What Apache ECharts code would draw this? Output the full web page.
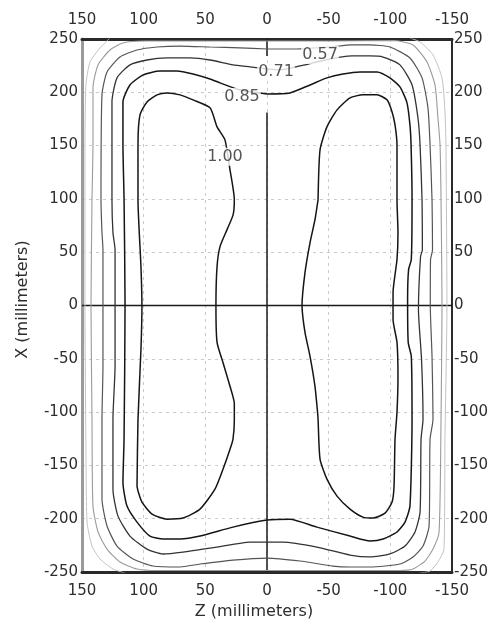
<!DOCTYPE html>
<html>
<head>
<meta charset="utf-8">
<script src="https://cdn.jsdelivr.net/npm/echarts@6/dist/echarts.min.js"></script>
<style>
html,body{margin:0;padding:0;background:#fff;}
#chart{width:499px;height:625px;}
</style>
</head>
<body>
<div id="chart"></div>
<script>
// Axis ranges (Z horizontal, reversed; X vertical)
const zRange = [-150, 150];
const xRange = [-250, 250];
const tickStep = 50;

// Contour label texts and where they sit [Z, X]
const labelTexts = ['0.57', '0.71', '0.85', '1.00'];
const labelPoints = [[-43, 235], [-7.3, 219], [20.3, 195.7], [34.1, 139.5]];

// Contour 1.00 - left lobe  [Z, X]
const c100Left = [
  [105.4,-169.5],[104.6,-106.7],[102.2,-41.2],[101.4,0],[102.2,36.5],[104.6,99.3],[104.6,150.7],
  [103.0,178.8],[97.3,191.0],[89.2,197.6],[81.1,199.4],[70.5,197.6],[60.0,192.9],[46.2,185.4],
  [40.5,167.6],[34.1,155.4],[30.0,127.3],[26.5,99.3],[27.5,85],[32.4,71.2],[38.1,55.2],
  [40.5,36.5],[41.4,0],[40.5,-34.6],[35.7,-53.4],[30.0,-75.8],[26.5,-92],[26.5,-108],
  [27.6,-125.5],[30.0,-134.8],[35.7,-153.6],[42.2,-172.3],[54.3,-191.0],[68.1,-199.4],
  [81.1,-200.4],[93.2,-195.7],[101.4,-184.4],[104.6,-174],[105.4,-169.5]
];
// Contour 1.00 - right lobe
const c100Right = [
  [-41.4,99.3],[-43.0,146.1],[-48.6,167.6],[-56.8,183.5],[-67.3,194.8],[-77.8,197.6],[-89.2,197.6],
  [-97.3,192.9],[-101.4,181.6],[-103.8,169.5],[-105.4,150.7],[-105.4,99.3],[-106.2,68.4],
  [-105.4,43.1],[-102.2,12.2],[-102.2,-13.1],[-105.4,-34.6],[-106.2,-66.5],[-105.4,-100.2],
  [-103.8,-125.5],[-103.0,-169.5],[-101.4,-184.4],[-95.7,-194.8],[-85.9,-199.4],[-77.8,-198.5],
  [-67.3,-191.0],[-56.8,-178.8],[-48.6,-162.9],[-43.0,-144.2],[-41.4,-106.7],[-41.0,-100.2],
  [-38.9,-75.8],[-34.9,-47.7],[-30.8,-25.3],[-28.4,0],[-30.8,30.9],[-34.9,59.0],[-38.9,80.5],
  [-41.4,99.3]
];
// Contour 0.85
const c085 = [
  [0,198.5],[-18.6,199.4],[-34.9,206.9],[-48.6,213.5],[-61.6,217.2],[-75.4,219.1],[-89.2,219.1],
  [-99.7,213.5],[-107.8,205.1],[-113.5,190.1],[-115.9,169.5],[-116.8,150.7],[-117.6,99.3],
  [-117.0,43.1],[-114.8,33.7],[-114.0,5.6],[-114.5,-34.6],[-117.0,-47.7],[-117.6,-106.7],
  [-115.9,-188.2],[-111.9,-203.2],[-105.4,-212.5],[-94.1,-219.1],[-83.5,-220.9],[-67.3,-216.3],
  [-40.5,-207.9],[-18.6,-200.4],[0,-201.3],[27.6,-207.9],[54.3,-216.3],[70.5,-219.1],
  [84.3,-219.1],[94.9,-216.3],[105.4,-203.2],[113.5,-188.2],[116.8,-165.7],[115.9,-125.5],
  [115.1,0],[115.9,99.3],[116.8,150.7],[116.8,191.0],[111.1,206.9],[100.5,216.3],[86.8,220.0],
  [73.0,220.0],[60.0,217.2],[46.2,212.5],[38.1,208.8],[21.9,202.2],[0,198.5]
];
// Contour 0.71
const c071 = [
  [0,221.9],[-10.5,221.0],[-26.8,224.7],[-47.0,230.3],[-68.9,234.1],[-83.5,234.1],[-94.1,233.1],
  [-107.8,225.7],[-117.6,206.9],[-122.4,176.0],[-124.1,150.7],[-125.7,99.3],[-126.0,52.4],
  [-124.5,45.9],[-122.8,-3.7],[-125.3,-50.6],[-126.5,-106.7],[-124.9,-125.5],[-124.1,-193.8],
  [-120.0,-212.5],[-111.9,-225.7],[-99.7,-233.1],[-83.5,-235.9],[-67.3,-234.1],[-40.5,-226.6],
  [-13.0,-221.9],[0,-221.9],[13.8,-221.9],[40.5,-226.6],[68.1,-231.3],[84.3,-233.1],
  [97.3,-228.5],[111.1,-216.3],[120.8,-197.6],[124.9,-172.3],[124.9,-106.7],[123.2,-57.1],
  [123.2,52.4],[124.9,68.4],[125.7,99.3],[125.7,191.0],[121.6,213.5],[111.1,225.7],[97.3,230.3],
  [81.1,232.2],[62.4,232.2],[46.2,230.3],[27.6,225.7],[13.8,223.8],[0,221.9]
];
// Contour 0.57
const c057 = [
  [0,240.6],[-24.3,240.6],[-51.1,242.5],[-68.9,244.4],[-83.5,244.4],[-99.7,242.5],[-115.9,232.2],
  [-125.7,213.5],[-130.5,185.4],[-132.2,150.7],[-133.8,99.3],[-134.2,52.4],[-132.6,43.1],
  [-132.4,0],[-133.8,-47.7],[-134.6,-106.7],[-132.2,-125.5],[-131.4,-206.9],[-126.5,-225.7],
  [-118.4,-235.9],[-107.8,-242.5],[-83.5,-245.3],[-67.3,-245.3],[-53.5,-244.4],[-26.8,-239.7],
  [0,-236.9],[27.6,-238.8],[54.3,-242.5],[70.5,-245.3],[92.4,-244.4],[108.6,-237.8],
  [121.6,-225.7],[129.7,-206.9],[133.8,-181.6],[133.8,-106.7],[133.0,-57.1],[133.0,52.4],
  [133.8,68.4],[134.6,99.3],[133.8,197.6],[129.7,219.1],[119.2,233.1],[105.4,239.7],
  [89.2,242.5],[70.5,243.4],[46.2,242.5],[21.9,241.6],[0,240.6]
];
// Contour 0.43
const c043 = [
  [0,248.1],[-51.1,248.1],[-102.2,248.6],[-118.4,244.4],[-129.7,228.5],[-136.2,206.9],
  [-138.6,176.0],[-140.3,150.7],[-141.1,99.3],[-141.9,0],[-141.1,-106.7],[-139.5,-212.5],
  [-134.6,-228.5],[-128.1,-239.7],[-118.4,-247.2],[-107.8,-248.6],[-51.1,-248.6],[0,-248.6],
  [54.3,-248.6],[89.2,-248.6],[105.4,-247.2],[119.2,-240.6],[129.7,-228.5],[137.0,-212.5],
  [141.1,-188.2],[141.9,-106.7],[142.7,0],[141.9,99.3],[141.1,150.7],[141.1,204.1],
  [137.0,225.7],[127.3,239.7],[116.8,246.3],[100.5,248.1],[54.3,248.1],[0,248.1]
];
// Contour 0.29 (open pieces leaving the plot)
const c029Left = [
  [127.3,251],[135.4,241.6],[143.5,228.5],[146.8,206.9],[147.6,150.7],[147.6,0],[146.8,-134.8],
  [145.9,-203.2],[141.9,-225.7],[135.4,-237.8],[124.9,-247.2],[115.1,-251]
];
const c029Right = [
  [-115.9,251],[-124.1,247.2],[-134.6,235.0],[-141.9,213.5],[-144.3,181.6],[-145.1,150.7],
  [-145.9,0],[-144.3,-125.5],[-143.5,-228.5],[-138.6,-240.6],[-132.2,-249.1],[-124.1,-251]
];

// Reference (zero) lines
const zeroH = [[150,0],[-150,0]];
const zeroVTop = [[0,250],[0,234]];
const zeroVBottom = [[0,181],[0,-250]];

const FONT = 'DejaVu Sans';
const TXT = '#2e2e2e';

function contour(name, data, color, width) {
  return {
    name: name, type: 'line', data: data, showSymbol: false, symbol: 'none',
    smooth: 0.2, silent: true, z: 3,
    lineStyle: { color: color, width: width }
  };
}
function refLine(data) {
  return {
    type: 'line', data: data, showSymbol: false, symbol: 'none', silent: true, z: 2,
    lineStyle: { color: '#1a1a1a', width: 1.5 }
  };
}

const axisLabelStyle = { fontFamily: FONT, fontSize: 15, color: TXT };
const gridLine = { show: true, lineStyle: { type: [3, 4], color: '#cacaca', width: 1 } };

const chart = echarts.init(document.getElementById('chart'), null, { renderer: 'canvas' });
chart.setOption({
  animation: false,
  backgroundColor: '#fff',
  grid: { left: 82, right: 47, top: 39, bottom: 52 },
  xAxis: [
    {
      type: 'value', min: zRange[0], max: zRange[1], interval: tickStep, inverse: true,
      position: 'bottom',
      name: 'Z (millimeters)', nameLocation: 'middle', nameGap: 32,
      nameTextStyle: { fontFamily: FONT, fontSize: 16, color: TXT, padding: [0, 26, 0, 0] },
      axisLine: { onZero: false, lineStyle: { color: '#2a2a2a', width: 3 } },
      axisTick: { show: false },
      axisLabel: Object.assign({ margin: 12 }, axisLabelStyle),
      splitLine: gridLine
    },
    {
      type: 'value', min: zRange[0], max: zRange[1], interval: tickStep, inverse: true,
      position: 'top',
      axisLine: { onZero: false, lineStyle: { color: '#2a2a2a', width: 3 } },
      axisTick: { show: false },
      axisLabel: Object.assign({ margin: 11 }, axisLabelStyle),
      splitLine: { show: false }
    }
  ],
  yAxis: [
    {
      type: 'value', min: xRange[0], max: xRange[1], interval: tickStep, position: 'left',
      name: 'X (millimeters)', nameLocation: 'middle', nameGap: 51, nameRotate: 90,
      nameTextStyle: { fontFamily: FONT, fontSize: 16, color: TXT, padding: [0, 0, 0, 12] },
      axisLine: { onZero: false, lineStyle: { color: '#9a9a9a', width: 3 } },
      axisTick: { show: false },
      axisLabel: Object.assign({ margin: 4 }, axisLabelStyle),
      splitLine: gridLine
    },
    {
      type: 'value', min: xRange[0], max: xRange[1], interval: tickStep, position: 'right',
      axisLine: { onZero: false, lineStyle: { color: '#2a2a2a', width: 2 } },
      axisTick: { show: false },
      axisLabel: Object.assign({ margin: 2 }, axisLabelStyle),
      splitLine: { show: false }
    }
  ],
  series: [
    refLine(zeroH), refLine(zeroVTop), refLine(zeroVBottom),
    contour('0.29 L', c029Left, '#c2c2c2', 1),
    contour('0.29 R', c029Right, '#c2c2c2', 1),
    contour('0.43', c043, '#9a9a9a', 1.1),
    contour('0.57', c057, '#555', 1.2),
    contour('0.71', c071, '#333', 1.3),
    contour('0.85', c085, '#151515', 1.5),
    contour('1.00 L', c100Left, '#151515', 1.5),
    contour('1.00 R', c100Right, '#151515', 1.5),
    {
      type: 'scatter', symbolSize: 0, silent: true, z: 10,
      data: labelPoints.map((p, i) => ({ value: p, name: labelTexts[i] })),
      label: {
        show: true, position: 'inside', formatter: (d) => d.name,
        fontFamily: FONT, fontSize: 16, color: '#2a2a2a',
        backgroundColor: '#fff', padding: [1, 1]
      }
    }
  ]
});
</script>
</body>
</html>
